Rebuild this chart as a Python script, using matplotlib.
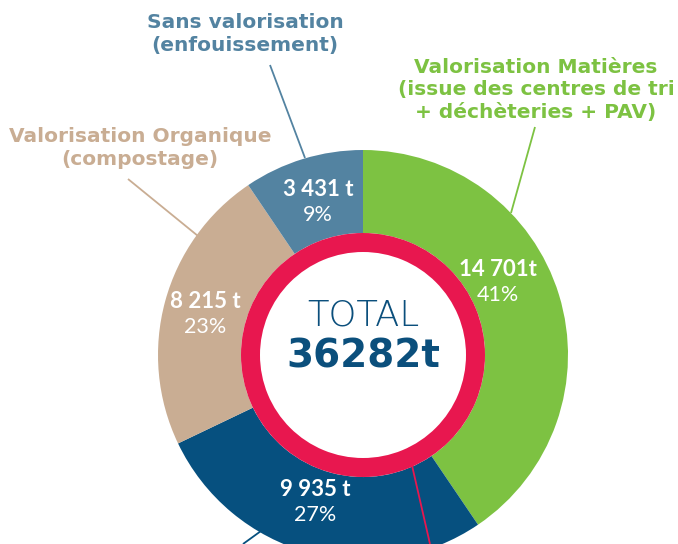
import matplotlib.pyplot as plt

# Data
categories = ['Valorisation Matières', 'Incinération', 'Valorisation Organique', 'Sans valorisation']
tonnes = [14701, 9935, 8215, 3431]
tonnes_labels = ['14 701t', '9 935 t', '8 215 t', '3 431 t']
pct_labels = ['41%', '27%', '23%', '9%']
colors = ['#7dc242', '#06507f', '#c9ad93', '#5383a1']
total = 36282

red = '#e8174f'
navy = '#0b4f7c'

fig = plt.figure(figsize=(6.78, 5.44), dpi=100)
ax = fig.add_axes([0, 0, 1, 1])

cx, cy = 363, 544 - 355

# outer donut
ax.pie(tonnes, colors=colors, radius=205, center=(cx, cy), startangle=90,
       counterclock=False, wedgeprops=dict(width=83, linewidth=0), frame=True)
# inner red ring
ax.pie([1], colors=[red], radius=122, center=(cx, cy),
       wedgeprops=dict(width=19, linewidth=0), frame=True)
ax.set_xlim(0, 678)
ax.set_ylim(0, 544)
ax.set_aspect('equal')
ax.axis('off')

font = 'Lato'
font2 = 'DejaVu Sans'

# leader lines (image pixel coords)
def line(x0, y0, x1, y1, c):
    ax.plot([x0, x1], [544 - y0, 544 - y1], color=c, lw=1.3, solid_capstyle='butt')

line(270, 65, 305, 158, colors[3])
line(535, 127, 511, 213, colors[0])
line(128, 179, 198, 236, colors[2])
line(408, 448, 430, 544, red)
line(290, 510, 243, 544, colors[1])

# value labels inside segments
label_pos = [(498, 270), (315, 490), (205, 302), (318, 190)]
for (x, y), t, p in zip(label_pos, tonnes_labels, pct_labels):
    ax.text(x, 544 - y, t, color='white', fontsize=16, fontweight='bold',
            family=font, ha='center', va='center')
    ax.text(x, 544 - y - 25, p, color='white', fontsize=15.5, fontweight='normal',
            family=font, ha='center', va='center')

# centre
ax.text(cx, 544 - 315, 'TOTAL', color=navy, fontsize=25.5, fontweight='light',
        family=font2, ha='center', va='center')
ax.text(cx, 544 - 357, f'{total}t', color=navy, fontsize=28, fontweight='bold',
        family=font2, ha='center', va='center')

# outer category labels
lab = dict(fontsize=14.5, fontweight='bold', family=font2, ha='center',
           va='center', linespacing=1.22)
ax.text(245, 544 - 34, 'Sans valorisation\n(enfouissement)', color=colors[3], **lab)
ax.text(536, 544 - 90, 'Valorisation Matières\n(issue des centres de tri\n+ déchèteries + PAV)',
        color=colors[0], **lab)
ax.text(140, 544 - 148, 'Valorisation Organique\n(compostage)', color=colors[2], **lab)

fig.savefig('out.png', dpi=100, facecolor='white')
